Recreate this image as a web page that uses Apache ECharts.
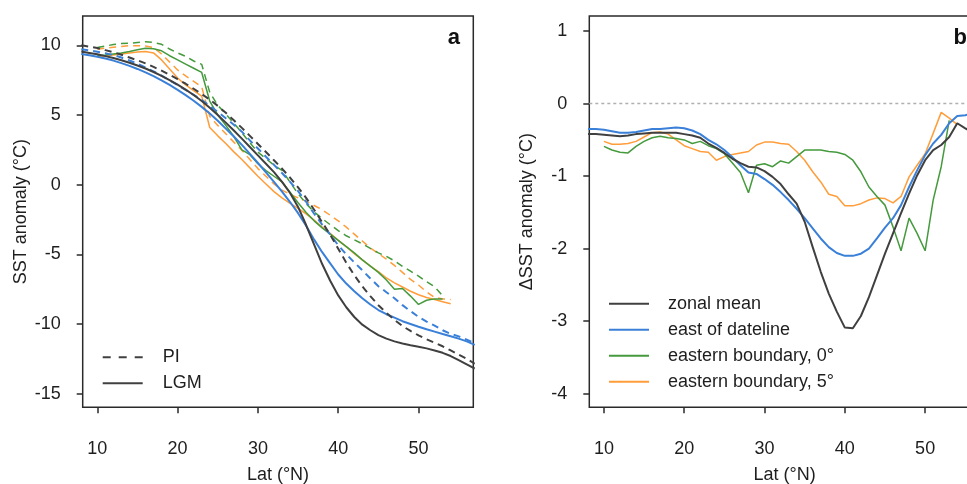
<!DOCTYPE html>
<html><head><meta charset="utf-8">
<script src="https://cdn.jsdelivr.net/npm/echarts@6/dist/echarts.min.js"></script>
<style>html,body{margin:0;padding:0;background:#fff}#c{width:967px;height:484px}</style>
</head><body><div id="c"></div>
<script>
// ---- categories (latitude, °N) ----
const latAll = [8,9,10,11,12,13,14,15,16,17,18,19,20,21,22,23,24,25,26,27,28,29,30,31,32,33,34,35,36,37,38,39,40,41,42,43,44,45,46,47,48,49,50,51,52,53,54,55,56,57];
const latEB0 = [10,11,12,13,14,15,16,17,18,19,20,21,22,23,24,25,26,27,28,29,30,31,32,33,34,35,36,37,38,39,40,41,42,43,44,45,46,47,48,49,50,51,52,53];
const latEB5 = [10,11,12,13,14,15,16,17,18,19,20,21,22,23,24,25,26,27,28,29,30,31,32,33,34,35,36,37,38,39,40,41,42,43,44,45,46,47,48,49,50,51,52,53,54];

// ---- panel a: SST anomaly (°C) ----
const zonalLGM = [9.55,9.45,9.35,9.22,9.08,8.92,8.75,8.55,8.33,8.08,7.8,7.5,7.17,6.82,6.43,6.0,5.52,5.0,4.45,3.88,3.3,2.7,2.1,1.5,0.9,0.2,-0.6,-1.6,-2.9,-4.3,-5.7,-6.9,-7.95,-8.8,-9.5,-10.05,-10.45,-10.8,-11.05,-11.25,-11.4,-11.52,-11.63,-11.75,-11.9,-12.07,-12.3,-12.6,-12.9,-13.2];
const zonalPI = [10.0,9.9,9.8,9.65,9.5,9.32,9.12,8.92,8.7,8.45,8.18,7.88,7.57,7.24,6.88,6.5,6.1,5.65,5.15,4.62,4.07,3.5,2.92,2.34,1.75,1.15,0.5,-0.2,-0.95,-1.8,-2.7,-3.6,-4.6,-5.6,-6.5,-7.3,-8.0,-8.65,-9.2,-9.7,-10.15,-10.5,-10.82,-11.1,-11.35,-11.6,-11.9,-12.2,-12.5,-12.85];
const eastLGM = [9.38,9.28,9.18,9.05,8.9,8.72,8.52,8.3,8.05,7.78,7.48,7.15,6.8,6.42,6.02,5.58,5.1,4.58,4.02,3.45,2.85,2.2,1.55,0.88,0.2,-0.5,-1.25,-2.05,-2.95,-3.95,-4.85,-5.65,-6.45,-7.1,-7.65,-8.15,-8.6,-9.0,-9.3,-9.55,-9.8,-10.0,-10.2,-10.38,-10.55,-10.72,-10.88,-11.05,-11.25,-11.5];
const eastPI = [9.72,9.63,9.54,9.43,9.3,9.12,8.91,8.67,8.4,8.13,7.82,7.48,7.14,6.79,6.44,6.08,5.66,5.22,4.76,4.3,3.8,3.17,2.59,2.0,1.42,0.83,0.2,-0.47,-1.23,-2.09,-2.87,-3.59,-4.35,-5.0,-5.58,-6.15,-6.74,-7.29,-7.72,-8.15,-8.65,-9.08,-9.49,-9.83,-10.12,-10.45,-10.71,-10.89,-11.12,-11.39];
const eb0LGM = [9.25,9.3,9.38,9.45,9.55,9.68,9.78,9.75,9.6,9.25,8.95,8.65,8.35,8.05,6.0,5.0,4.25,3.45,2.5,2.15,1.5,1.0,0.6,0.2,-0.55,-1.3,-2.0,-2.6,-3.1,-3.55,-4.0,-4.45,-4.9,-5.4,-5.85,-6.3,-6.85,-7.5,-7.45,-8.0,-8.6,-8.3,-8.2,-8.2];
const eb0PI = [9.84,9.94,10.05,10.13,10.14,10.2,10.25,10.2,10.07,9.73,9.45,9.2,8.87,8.63,6.62,5.69,5.07,4.4,3.73,3.0,2.33,1.87,1.39,1.02,0.18,-0.66,-1.36,-1.96,-2.44,-2.88,-3.3,-3.67,-3.96,-4.25,-4.57,-4.9,-5.15,-5.47,-5.87,-6.21,-6.57,-6.97,-7.33,-7.97];
const eb5LGM = [9.2,9.25,9.3,9.38,9.45,9.52,9.55,9.45,8.95,8.3,7.65,7.15,6.75,6.35,4.1,3.5,2.95,2.35,1.8,1.2,0.6,0.05,-0.5,-0.95,-1.35,-1.7,-2.1,-2.55,-3.05,-3.5,-4.0,-4.45,-4.95,-5.4,-5.85,-6.25,-6.7,-7.05,-7.35,-7.65,-7.9,-8.1,-8.25,-8.4,-8.55];
const eb5PI = [9.72,9.8,9.86,9.92,9.97,9.97,9.95,9.84,9.37,8.8,8.23,7.8,7.41,7.02,4.9,4.25,3.65,3.05,2.46,1.8,1.15,0.6,0.05,-0.4,-0.7,-0.95,-1.2,-1.5,-1.8,-2.2,-2.6,-3.05,-3.55,-4.05,-4.55,-4.95,-5.35,-5.8,-6.3,-6.8,-7.2,-7.7,-8.1,-8.2,-8.25];

// ---- panel b: ΔSST anomaly (°C) ----
const dZonal = [-0.42,-0.42,-0.43,-0.44,-0.45,-0.44,-0.42,-0.41,-0.40,-0.40,-0.40,-0.40,-0.42,-0.44,-0.47,-0.55,-0.61,-0.68,-0.76,-0.82,-0.87,-0.88,-0.93,-1.01,-1.11,-1.25,-1.38,-1.63,-1.98,-2.32,-2.62,-2.87,-3.09,-3.10,-2.93,-2.67,-2.37,-2.07,-1.79,-1.51,-1.24,-0.99,-0.78,-0.64,-0.57,-0.46,-0.27,-0.34,-0.40,-0.45];
const dEast = [-0.35,-0.35,-0.36,-0.38,-0.40,-0.40,-0.39,-0.37,-0.35,-0.35,-0.34,-0.33,-0.34,-0.37,-0.42,-0.50,-0.56,-0.64,-0.74,-0.85,-0.95,-0.97,-1.04,-1.12,-1.22,-1.33,-1.45,-1.58,-1.72,-1.86,-1.98,-2.06,-2.10,-2.10,-2.07,-2.00,-1.86,-1.71,-1.58,-1.40,-1.15,-0.92,-0.71,-0.55,-0.43,-0.27,-0.17,-0.16,-0.13,-0.11];
const dEB0 = [-0.59,-0.64,-0.67,-0.68,-0.59,-0.52,-0.47,-0.45,-0.47,-0.48,-0.50,-0.55,-0.52,-0.58,-0.62,-0.69,-0.82,-0.95,-1.23,-0.85,-0.83,-0.87,-0.79,-0.82,-0.73,-0.64,-0.64,-0.64,-0.66,-0.67,-0.70,-0.78,-0.94,-1.15,-1.28,-1.40,-1.70,-2.03,-1.58,-1.79,-2.03,-1.33,-0.87,-0.23];
const dEB5 = [-0.52,-0.56,-0.56,-0.55,-0.52,-0.46,-0.40,-0.39,-0.42,-0.50,-0.58,-0.62,-0.66,-0.67,-0.78,-0.73,-0.70,-0.68,-0.66,-0.57,-0.53,-0.53,-0.55,-0.56,-0.66,-0.78,-0.94,-1.08,-1.25,-1.28,-1.41,-1.41,-1.38,-1.33,-1.30,-1.31,-1.37,-1.28,-1.01,-0.85,-0.69,-0.41,-0.12,-0.20,-0.29];

// ---- ticks ----
const xTicks = [10,20,30,40,50];
const yTicksA = [-15,-10,-5,0,5,10];
const yTicksB = [-4,-3,-2,-1,0,1];
const legendB = ['zonal mean','east of dateline','eastern boundary, 0°','eastern boundary, 5°'];

const C = {black:'#404040', blue:'#3a80d8', green:'#449a3c', orange:'#ff9d3a'};
const FONT = 'Liberation Sans, Arial, Helvetica, sans-serif';
const TXT = '#1e1e1e';
const BOX = '#2a2a2a';
const pair = (lats, vals) => lats.map((l, i) => [l, vals[i]]);

const gridBase = {top: 16, width: 390.6, height: 391.3, show: true, borderColor: BOX, borderWidth: 1.5,
  backgroundColor: 'transparent', containLabel: false, outerBoundsMode: 'none'};
const gridA = Object.assign({left: 82.7}, gridBase);
const gridB = Object.assign({left: 589.3}, gridBase);

function xAxis(gi) {
  return {
    type: 'value', gridIndex: gi, min: 8.18, max: 56.82, position: 'bottom',
    name: 'Lat (°N)', nameLocation: 'middle', nameGap: 59,
    nameTextStyle: {fontSize: 18, color: TXT, fontFamily: FONT},
    axisLine: {show: false, onZero: false},
    axisTick: {show: true, inside: false, length: 6, customValues: xTicks, lineStyle: {color: BOX, width: 1.5}},
    axisLabel: {customValues: xTicks, margin: 33, fontSize: 18, color: TXT, fontFamily: FONT},
    splitLine: {show: false}
  };
}
function yAxis(gi, min, max, ticks, name) {
  return {
    type: 'value', gridIndex: gi, min: min, max: max, position: 'left',
    name: name, nameLocation: 'middle', nameGap: 53, nameRotate: 90,
    nameTextStyle: {fontSize: 18, color: TXT, fontFamily: FONT},
    axisLine: {show: false, onZero: false},
    axisTick: {show: true, inside: false, length: 6, customValues: ticks, lineStyle: {color: BOX, width: 1.5}},
    axisLabel: {customValues: ticks, margin: 22, fontSize: 18, color: TXT, fontFamily: FONT},
    splitLine: {show: false}
  };
}
function line(name, xi, lats, vals, color, width, dashed, z) {
  return {
    name: name, type: 'line', xAxisIndex: xi, yAxisIndex: xi,
    data: pair(lats, vals), symbol: 'none', showSymbol: false, clip: true,
    lineStyle: {color: color, width: width, type: dashed ? [7, 5] : 'solid'},
    itemStyle: {color: color}, z: z || 2, silent: true
  };
}

const series = [
  // panel a
  line('eastern boundary, 5° (PI)', 0, latEB5, eb5PI, C.orange, 1.5, true, 2),
  line('eastern boundary, 0° (PI)', 0, latEB0, eb0PI, C.green, 1.5, true, 2),
  line('east of dateline (PI)', 0, latAll, eastPI, C.blue, 2, true, 3),
  line('zonal mean (PI)', 0, latAll, zonalPI, C.black, 2, true, 4),
  line('eastern boundary, 5° (LGM)', 0, latEB5, eb5LGM, C.orange, 1.5, false, 2),
  line('eastern boundary, 0° (LGM)', 0, latEB0, eb0LGM, C.green, 1.5, false, 2),
  line('east of dateline (LGM)', 0, latAll, eastLGM, C.blue, 2, false, 3),
  line('zonal mean (LGM)', 0, latAll, zonalLGM, C.black, 2, false, 4),
  {name: 'PI', type: 'line', xAxisIndex: 0, yAxisIndex: 0, data: [], symbol: 'none', lineStyle: {color: C.black, width: 2, type: [8, 8]}, itemStyle: {color: C.black}},
  {name: 'LGM', type: 'line', xAxisIndex: 0, yAxisIndex: 0, data: [], symbol: 'none', lineStyle: {color: C.black, width: 2, type: 'solid'}, itemStyle: {color: C.black}},
  // panel b
  Object.assign(line('eastern boundary, 5°', 1, latEB5, dEB5, C.orange, 1.5, false, 2), {
    markLine: {silent: true, symbol: ['none', 'none'], label: {show: false}, animation: false,
      lineStyle: {color: '#b0b0b0', type: [3, 3], width: 1.3}, data: [{yAxis: 0}]}
  }),
  line('eastern boundary, 0°', 1, latEB0, dEB0, C.green, 1.5, false, 2),
  line('east of dateline', 1, latAll, dEast, C.blue, 2, false, 3),
  line('zonal mean', 1, latAll, dZonal, C.black, 2, false, 4)
];

const hiddenSymbol = {color: 'rgba(0,0,0,0)', borderColor: 'rgba(0,0,0,0)', borderWidth: 0, opacity: 0};

const chart = echarts.init(document.getElementById('c'), null, {renderer: 'canvas'});
chart.setOption({
  animation: false,
  backgroundColor: '#fff',
  textStyle: {fontFamily: FONT},
  grid: [gridA, gridB],
  xAxis: [xAxis(0), xAxis(1)],
  yAxis: [yAxis(0, -15.98, 12.1, yTicksA, 'SST anomaly (°C)'), yAxis(1, -4.19, 1.21, yTicksB, 'ΔSST anomaly (°C)')],
  legend: [
    {data: ['PI', 'LGM'], orient: 'vertical', left: 101.7, top: 348.3, padding: 0, itemGap: 8, itemWidth: 40, itemHeight: 18,
     selectedMode: false, itemStyle: hiddenSymbol, textStyle: {fontSize: 18, color: TXT, fontFamily: FONT, padding: [0, 0, 0, 15]}},
    {data: legendB, orient: 'vertical', left: 608, top: 294.7, padding: 0, itemGap: 8, itemWidth: 40, itemHeight: 18,
     selectedMode: false, itemStyle: hiddenSymbol, textStyle: {fontSize: 18, color: TXT, fontFamily: FONT, padding: [0, 0, 0, 14]}}
  ],
  graphic: [
    {type: 'text', x: 460, y: 38, style: {text: 'a', font: 'bold 22px ' + FONT, fill: '#111', align: 'right', verticalAlign: 'middle'}},
    {type: 'text', x: 967, y: 38, style: {text: 'b', font: 'bold 22px ' + FONT, fill: '#111', align: 'right', verticalAlign: 'middle'}}
  ],
  series: series
});
</script>
</body></html>
